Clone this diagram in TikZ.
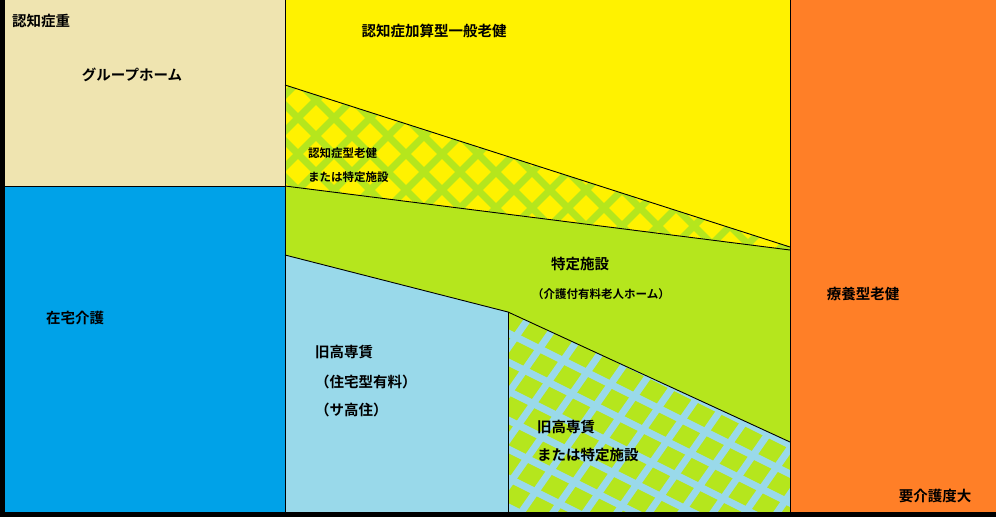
\documentclass[tikz,border=0pt]{standalone}
\usepackage{fontspec}
\setmainfont{Noto Sans CJK JP}[BoldFont={Noto Sans CJK JP Bold}]
\definecolor{beige}{RGB}{239,228,176}
\definecolor{zaitaku}{RGB}{0,162,232}
\definecolor{kiiro}{RGB}{255,242,0}
\definecolor{midori}{RGB}{181,230,29}
\definecolor{mizuiro}{RGB}{153,217,234}
\definecolor{daidai}{RGB}{255,127,39}

\begin{document}
\begin{tikzpicture}[x=1pt, y=-1pt, every node/.style={inner sep=0pt, font=\bfseries\fontsize{14.5}{16}\selectfont},
  small/.style={font=\bfseries\fontsize{11.5}{13}\selectfont},
  edge/.style={draw=black, line width=0.9pt},
  axis/.style={draw=black, line width=5pt},
  hatch/.style={line width=7pt}]
\fill[white] (0,0) rectangle (996,528);
\useasboundingbox (0,0) rectangle (996,528);
% corners of the areas
\coordinate (gtop) at (285,0);
\coordinate (gbot) at (285,512);
\coordinate (rtop) at (790,0);
\coordinate (rbot) at (790,512);
\coordinate (ka) at (285,85);
\coordinate (kb) at (790,247);
\coordinate (ta) at (285,186);
\coordinate (tb) at (790,250);
\coordinate (la) at (5,186);
\coordinate (ha) at (285,255);
\coordinate (hb) at (508,312);
\coordinate (hc) at (508,512);
\coordinate (hd) at (790,442);
\coordinate (oa) at (2.5,0);
\coordinate (ob) at (2.5,517);
\coordinate (xa) at (0,514.5);
\coordinate (xb) at (996,514.5);
% areas
\fill[beige] (5,0) rectangle (ta);
\fill[zaitaku] (la) rectangle (gbot);
\fill[kiiro] (gtop) rectangle (tb);
\fill[midori] (ta) -- (tb) -- (rbot) -- (gbot) -- cycle;
\fill[mizuiro] (ha) -- (hb) -- (hc) -- (gbot) -- cycle;
\fill[daidai] (rtop) rectangle (996,512);
% hatched areas
\begin{scope}
  \clip (ka) -- (kb) -- (tb) -- (ta) -- cycle;
  \foreach \i in {0,36,...,900} {
    \draw[hatch, midori] (\i,0) -- ++(400,400);
    \draw[hatch, midori] (\i+200,0) -- ++(-400,400);
  }
\end{scope}
\begin{scope}
  \clip (hb) -- (hd) -- (rbot) -- (hc) -- cycle;
  \foreach \i in {0,29,...,520} {
    \draw[hatch, mizuiro] (480,\i) -- ++(340,170);
  }
  \foreach \i in {0,32,...,700} {
    \draw[hatch, mizuiro] (\i+200,560) -- ++(300,-430);
  }
\end{scope}
% boundaries
\draw[edge] (gtop) -- (gbot);
\draw[edge] (rtop) -- (rbot);
\draw[edge] (la) -- (ta);
\draw[edge] (ka) -- (kb);
\draw[edge] (ta) -- (tb);
\draw[edge] (ha) -- (hb);
\draw[edge] (hb) -- (hc);
\draw[edge] (hb) -- (hd);
\draw[axis] (oa) -- (ob);
\draw[axis] (xa) -- (xb);
% labels
\node[anchor=west] (jyu) at (12,21) {認知症重};
\node (gh) at (132,75) {グループホーム};
\node (kasan) at (434,31) {認知症加算型一般老健};
\node[small, anchor=west] (nroken) at (308,153) {認知症型老健};
\node[small, anchor=west] (nmata) at (308,177) {または特定施設};
\node (tokutei) at (580,264) {特定施設};
\node[small] (kaigo) at (601,294) {（介護付有料老人ホーム）};
\node (ryoyo) at (863,294) {療養型老健};
\node (zaitakulbl) at (75,318) {在宅介護};
\node[anchor=west] (kyu) at (315,352) {旧高専賃};
\node[anchor=west] (jutaku) at (315,382) {（住宅型有料）};
\node[anchor=west] (sako) at (315,410) {（サ高住）};
\node[anchor=west] (kyu2) at (537,427) {旧高専賃};
\node[anchor=west] (kmata) at (537,455) {または特定施設};
\node (dai) at (935,496) {要介護度大};
\end{tikzpicture}
\end{document}
